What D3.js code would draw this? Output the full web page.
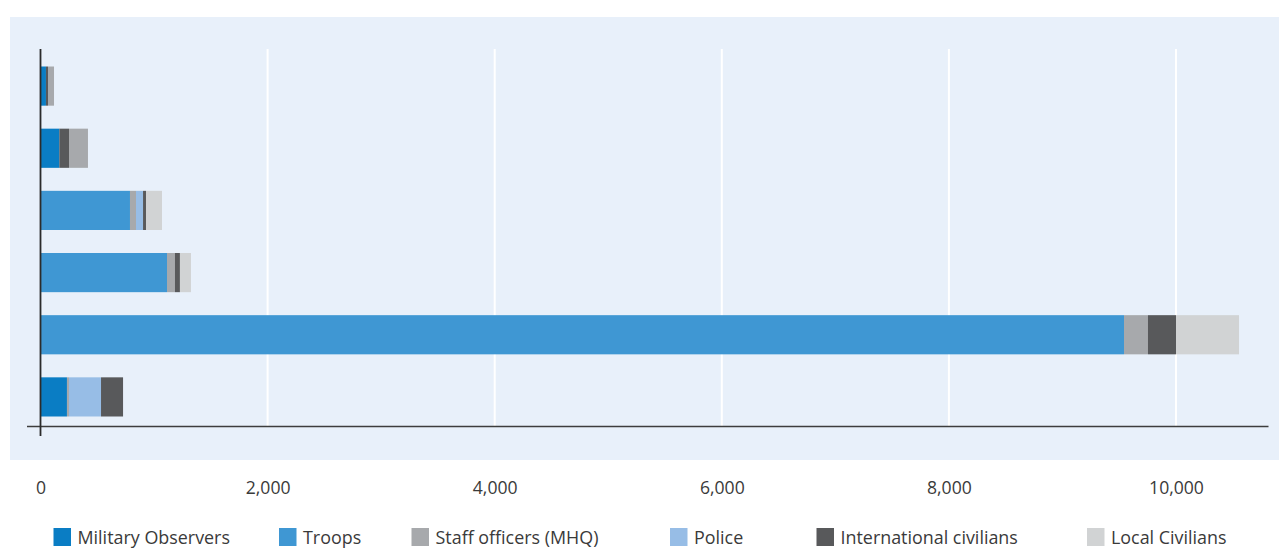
<!DOCTYPE html>
<html>
<head>
<meta charset="utf-8">
<script src="https://cdn.jsdelivr.net/npm/d3@7"></script>
<style>
  html, body { margin: 0; padding: 0; background: #ffffff; }
  svg { display: block; }
  text { font-family: "Open Sans", "Noto Sans", sans-serif; fill: #3a3a3a; }
</style>
</head>
<body>
<svg id="chart" width="1279" height="548"></svg>
<script>
// Personnel by mission, stacked by category
const missions = ["Mission A", "Mission B", "Mission C", "Mission D", "Mission E", "Mission F"];
const seriesNames = ["Military Observers", "Troops", "Staff officers (MHQ)", "Police", "International civilians", "Local Civilians"];
const militaryObservers     = [48, 166, 0, 0, 0, 233];
const troops                = [0, 0, 788, 1114, 9542, 0];
const staffOfficers         = [0, 0, 53, 70, 211, 18];
const police                = [0, 0, 62, 0, 0, 282];
const internationalCivilians = [18, 85, 26, 44, 247, 194];
const localCivilians        = [53, 167, 141, 97, 555, 0];
const tickValues = [0, 2000, 4000, 6000, 8000, 10000];

// Styling
const seriesColors = ["#0a7dc4", "#3f97d3", "#a7a9ac", "#97bde6", "#58595b", "#d1d3d4"];
// the local-civilian block of the two smallest missions is shaded darker
const darkerLocalMissions = new Set(["Mission A", "Mission B"]);
const panelColor = "#e8f0fa";

const seriesValues = [militaryObservers, troops, staffOfficers, police, internationalCivilians, localCivilians];
const rows = missions.map((m, i) => {
  const r = { mission: m };
  seriesNames.forEach((s, k) => { r[s] = seriesValues[k][i]; });
  return r;
});
const stacked = d3.stack().keys(seriesNames)(rows);

const svg = d3.select("#chart");

// background panel
svg.append("rect").attr("x", 10).attr("y", 17).attr("width", 1269).attr("height", 443).attr("fill", panelColor);

const x = d3.scaleLinear().domain([0, 10000]).range([40.5, 1176]);
const y = d3.scaleBand().domain(missions).range([55, 428]).paddingInner(0.37).paddingOuter(0.185);

// vertical gridlines
svg.append("g")
  .selectAll("line")
  .data(tickValues.filter(v => v > 0))
  .join("line")
  .attr("x1", d => x(d)).attr("x2", d => x(d))
  .attr("y1", 49).attr("y2", 426.5)
  .attr("stroke", "#ffffff").attr("stroke-width", 2);

// stacked bars
const layers = svg.append("g")
  .selectAll("g")
  .data(stacked)
  .join("g")
  .attr("fill", (d, i) => seriesColors[i]);

layers.selectAll("rect")
  .data(d => d.map(p => Object.assign({ key: d.key }, p)))
  .join("rect")
  .attr("x", d => x(d[0]))
  .attr("y", d => y(d.data.mission))
  .attr("width", d => Math.max(0, x(d[1]) - x(d[0])))
  .attr("height", y.bandwidth())
  .attr("fill", d => (d.key === "Local Civilians" && darkerLocalMissions.has(d.data.mission)) ? seriesColors[2] : null);

// axes lines
svg.append("line").attr("x1", 27).attr("x2", 1268.5).attr("y1", 426.5).attr("y2", 426.5)
  .attr("stroke", "#3d3d3d").attr("stroke-width", 1.5);
svg.append("line").attr("x1", 40.5).attr("x2", 40.5).attr("y1", 49).attr("y2", 436)
  .attr("stroke", "#2b2b2b").attr("stroke-width", 1.8);

// tick labels
const xAxis = d3.axisBottom(x).tickValues(tickValues).tickFormat(d3.format(",")).tickSize(0).tickPadding(0);
const gx = svg.append("g").attr("transform", "translate(0,481.5)").call(xAxis);
gx.select(".domain").remove();
gx.selectAll("text").attr("font-size", 17.6).attr("fill", "#3a3a3a")
  .style("font-family", '"Open Sans", "Noto Sans", sans-serif').attr("dy", "0.71em");

// legend
const legendX = [53.5, 279, 411.5, 670, 816.5, 1087];
const legend = svg.append("g").selectAll("g")
  .data(seriesNames)
  .join("g")
  .attr("transform", (d, i) => `translate(${legendX[i]},528)`);
legend.append("rect").attr("width", 17.5).attr("height", 18).attr("fill", (d, i) => seriesColors[i]);
legend.append("text").attr("x", 24).attr("y", 9.5).attr("dy", "0.35em")
  .attr("font-size", 17.9).text(d => d);
</script>
</body>
</html>
